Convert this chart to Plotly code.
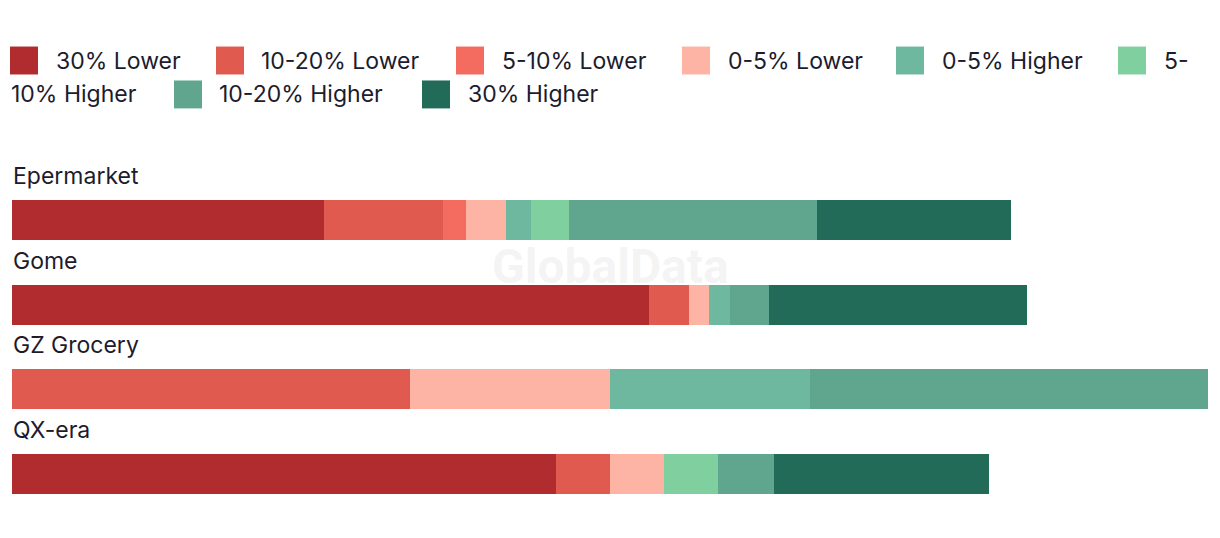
import plotly.graph_objects as go

categories = ["Epermarket", "Gome", "GZ Grocery", "QX-era"]
series_names = ["30% Lower", "10-20% Lower", "5-10% Lower", "0-5% Lower",
                "0-5% Higher", "5-10% Higher", "10-20% Higher", "30% Higher"]
colors = ["#b02c2e", "#e05a4f", "#f46b5f", "#feb4a5",
          "#6fb8a0", "#80cf9e", "#60a68f", "#216b58"]

lower30 = [26.1, 53.3, 0, 45.5]
lower10_20 = [9.9, 3.3, 33.3, 4.5]
lower5_10 = [2.0, 0, 0, 0]
lower0_5 = [3.3, 1.7, 16.7, 4.5]
higher0_5 = [2.1, 1.7, 16.7, 0]
higher5_10 = [3.2, 0, 0, 4.5]
higher10_20 = [20.7, 3.3, 33.3, 4.7]
higher30 = [16.2, 21.6, 0, 18.0]

series_values = [lower30, lower10_20, lower5_10, lower0_5,
                 higher0_5, higher5_10, higher10_20, higher30]

# page body has an 8px default margin; work in window pixel coords
OFF = 8
WIN_W, WIN_H = 1220, 538
W, H = WIN_W - 2 * OFF, WIN_H - 2 * OFF
PL, PR, PT, PB = 12, 1208, 177.7, 516.3   # plot area in window coords
ML, MR, MT, MB = PL - OFF, W - (PR - OFF), PT - OFF, H - (PB - OFF)
PW = PR - PL
PH = PB - PT

FONT = "Inter"
TXT = "#1c1c2e"

fig = go.Figure()
for name, vals, col in zip(series_names, series_values, colors):
    fig.add_trace(go.Bar(
        y=categories, x=vals, name=name, orientation="h",
        marker=dict(color=col, line=dict(width=0)),
        showlegend=False,
    ))


def px_x(px):
    return (px - PL) / PW


def px_y(py):
    return (PB - py) / PH


shapes = []
annotations = []

legend_items = [
    (0, 10, 54, 60, "30% Lower"),
    (1, 216, 259, 60, "10-20% Lower"),
    (2, 456, 500, 60, "5-10% Lower"),
    (3, 682, 726, 60, "0-5% Lower"),
    (4, 896, 940, 60, "0-5% Higher"),
    (5, 1118, 1162, 60, "5-"),
    (6, 174, 217, 94, "10-20% Higher"),
    (7, 422, 466, 94, "30% Higher"),
]
for idx, sx, tx, cy, label in legend_items:
    shapes.append(dict(type="rect", xref="paper", yref="paper",
                       x0=px_x(sx), x1=px_x(sx + 28),
                       y0=px_y(cy + 14), y1=px_y(cy - 14),
                       fillcolor=colors[idx], line=dict(width=0)))
    annotations.append(dict(xref="paper", yref="paper", x=px_x(tx), y=px_y(cy),
                            text=label, showarrow=False, xanchor="left",
                            yanchor="middle",
                            font=dict(family=FONT, size=23, color=TXT)))
annotations.append(dict(xref="paper", yref="paper", x=px_x(9), y=px_y(94),
                        text="10% Higher", showarrow=False, xanchor="left",
                        yanchor="middle",
                        font=dict(family=FONT, size=23, color=TXT)))

for cat in categories:
    annotations.append(dict(xref="paper", yref="y", x=px_x(11), y=cat,
                            text=cat, showarrow=False, xanchor="left",
                            yanchor="middle", yshift=44,
                            font=dict(family=FONT, size=23, color=TXT)))

annotations.append(dict(xref="paper", yref="paper", x=px_x(610), y=px_y(266),
                        text="<b>GlobalData</b>", showarrow=False,
                        xanchor="center", yanchor="middle",
                        font=dict(family="Roboto", size=48,
                                  color="rgba(200,200,200,0.2)")))

fig.update_layout(
    width=W, height=H,
    margin=dict(l=ML, r=MR, t=MT, b=MB, pad=0, autoexpand=False),
    barmode="stack",
    bargap=1 - 40 / (PH / 4),
    plot_bgcolor="white", paper_bgcolor="white",
    xaxis=dict(range=[0, 100], visible=False, fixedrange=True),
    yaxis=dict(categoryorder="array", categoryarray=categories,
               range=[3.5, -0.5], autorange=False,
               visible=False, fixedrange=True),
    shapes=shapes,
    annotations=annotations,
    showlegend=False,
)

fig.write_html("out.html", config={"displayModeBar": False})
